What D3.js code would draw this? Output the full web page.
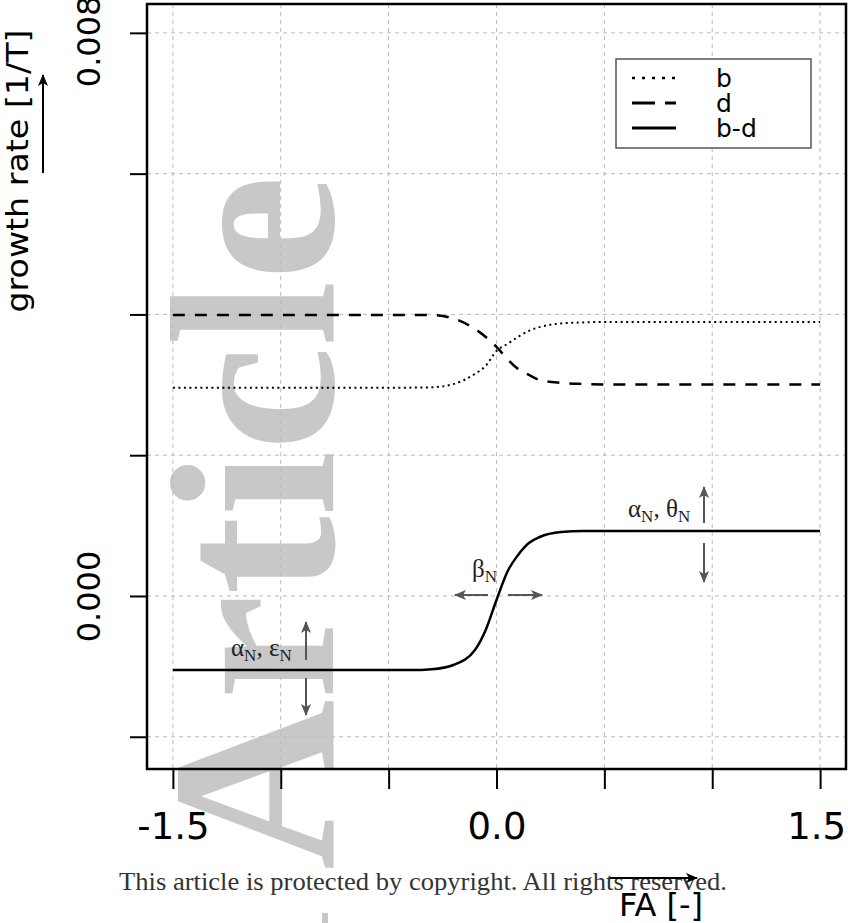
<!DOCTYPE html>
<html>
<head>
<meta charset="utf-8">
<script src="https://cdn.jsdelivr.net/npm/d3@7"></script>
<style>
    body { margin: 0; background: #fff; }
    svg { display: block; }
    .sans { font-family: "DejaVu Sans", sans-serif; }
    .serif { font-family: "Liberation Serif", "Times New Roman", serif; }
</style>
</head>
<body>
<svg width="848" height="923"></svg>
<script>
// FA sample points
const faValues = [-1.5, -1.0, -0.5, -0.4, -0.3, -0.2, -0.1, -0.05, 0, 0.05, 0.1, 0.15, 0.2, 0.3, 0.4, 0.5, 1.0, 1.5];
// birth rate b (dotted)
const bValues = [0.00296, 0.00296, 0.00296, 0.00296, 0.002965, 0.00301, 0.003155, 0.00327, 0.00348, 0.00358, 0.00368, 0.003766, 0.00382, 0.003872, 0.003886, 0.003893, 0.003893, 0.003893];
// death rate d (dashed)
const dValues = [0.003993, 0.003993, 0.003993, 0.003993, 0.00399, 0.003943, 0.003794, 0.00368, 0.003538, 0.003368, 0.003226, 0.00314, 0.003069, 0.003027, 0.003012, 0.003006, 0.003006, 0.003006];
// net growth b-d (solid)
const netValues = [-0.001052, -0.001052, -0.001052, -0.001052, -0.00104, -0.00098, -0.000767, -0.000483, -0.000057, 0.000341, 0.000583, 0.000753, 0.000838, 0.000909, 0.000924, 0.000924, 0.000924, 0.000924];

const xTicks = [-1.5, -1.0, -0.5, 0, 0.5, 1.0, 1.5];
const xTickLabels = ['-1.5', '', '', '0.0', '', '', '1.5'];
const yTicks = [-0.002, 0, 0.002, 0.004, 0.006, 0.008];
const yTickLabels = ['', '0.000', '', '', '', '0.008'];
const legendNames = ['b', 'd', 'b-d'];

const BOX = { left: 147, right: 846, top: 4, bottom: 769 };

const svg = d3.select('svg');

const xScale = d3.scaleLinear()
    .domain([-1.62, 1.62])
    .range([BOX.left, BOX.right]);

const yScale = d3.scaleLinear()
    .domain([-0.002458, 0.00841])
    .range([BOX.bottom, BOX.top]);

// arrow heads
const defs = svg.append('defs');
function addMarker(id, color) {
    defs.append('marker')
        .attr('id', id)
        .attr('viewBox', '0 0 12 10')
        .attr('refX', 11).attr('refY', 5)
        .attr('markerWidth', 6.5).attr('markerHeight', 5)
        .attr('markerUnits', 'strokeWidth')
        .attr('orient', 'auto')
        .append('path')
        .attr('d', 'M0,0 L12,5 L0,10 L3,5 Z')
        .attr('fill', color);
}
addMarker('headBlack', '#000');
addMarker('headGrey', '#555');

// WATERMARK ==================================================
svg.append('text')
    .attr('class', 'serif')
    .attr('transform', 'translate(333,870) rotate(-90)')
    .attr('font-size', 236)
    .attr('font-weight', 'bold')
    .attr('fill', '#c8c8c8')
    .text('Article');

svg.append('rect')
    .attr('x', 322).attr('y', 913)
    .attr('width', 6).attr('height', 10)
    .attr('fill', '#c8c8c8');

// GRID =======================================================
svg.append('g')
    .selectAll('line')
    .data(xTicks)
    .join('line')
    .attr('x1', d => xScale(d)).attr('x2', d => xScale(d))
    .attr('y1', BOX.top).attr('y2', BOX.bottom)
    .attr('stroke', '#bbb')
    .attr('stroke-dasharray', '4,4');

svg.append('g')
    .selectAll('line')
    .data(yTicks)
    .join('line')
    .attr('x1', BOX.left).attr('x2', BOX.right)
    .attr('y1', d => yScale(d)).attr('y2', d => yScale(d))
    .attr('stroke', '#bbb')
    .attr('stroke-dasharray', '4,4');

// AXES =======================================================
const xAxis = svg.append('g')
    .attr('transform', `translate(0,${BOX.bottom})`)
    .call(d3.axisBottom(xScale)
        .tickValues(xTicks)
        .tickSize(20)
        .tickPadding(24)
        .tickFormat((d, i) => xTickLabels[i]));

xAxis.select('.domain').remove();
xAxis.selectAll('line').attr('stroke', '#000').attr('stroke-width', 2);
xAxis.selectAll('text')
    .attr('class', 'sans')
    .attr('font-size', 37)
    .attr('fill', '#000')
    .attr('dy', '0.71em');
// last label sits a little inside the frame edge
xAxis.selectAll('text').filter((d, i) => i === xTicks.length - 1)
    .attr('x', -4);

const yAxis = svg.append('g')
    .attr('transform', `translate(${BOX.left},0)`)
    .call(d3.axisLeft(yScale)
        .tickValues(yTicks)
        .tickSize(17)
        .tickFormat((d, i) => yTickLabels[i]));

yAxis.select('.domain').remove();
yAxis.selectAll('line').attr('stroke', '#000').attr('stroke-width', 2);
yAxis.selectAll('text')
    .attr('class', 'sans')
    .attr('font-size', 32)
    .attr('fill', '#000')
    .attr('transform', 'rotate(-90)')
    .attr('x', 0)
    .attr('y', -47)
    .attr('dy', 0)
    .attr('text-anchor', 'middle');
// top label is nudged down so it stays mostly on the page
yAxis.selectAll('text').filter((d, i) => i === yTicks.length - 1)
    .attr('x', -8);

// box
svg.append('rect')
    .attr('x', BOX.left).attr('y', BOX.top)
    .attr('width', BOX.right - BOX.left)
    .attr('height', BOX.bottom - BOX.top)
    .attr('fill', 'none')
    .attr('stroke', '#000')
    .attr('stroke-width', 2.5);

// CURVES =====================================================
const line = values => d3.line()
    .x((d, i) => xScale(faValues[i]))
    .y(d => yScale(d))
    .curve(d3.curveMonotoneX)(values);

const series = [
    { values: bValues, dash: '2,3.5', legendDash: '3,7', width: 2 },
    { values: dValues, dash: '12,10', legendDash: '23,10', width: 2.5 },
    { values: netValues, dash: null, legendDash: null, width: 2.5 }
];

svg.append('g')
    .selectAll('path')
    .data(series)
    .join('path')
    .attr('d', s => line(s.values))
    .attr('fill', 'none')
    .attr('stroke', '#000')
    .attr('stroke-width', s => s.width)
    .attr('stroke-dasharray', s => s.dash);

// LEGEND =====================================================
const legend = svg.append('g');
legend.append('rect')
    .attr('x', 616).attr('y', 59)
    .attr('width', 195).attr('height', 89)
    .attr('fill', '#fff')
    .attr('stroke', '#555')
    .attr('stroke-width', 1.5);

const legendRows = legend.selectAll('g.row')
    .data(series)
    .join('g')
    .attr('class', 'row')
    .attr('transform', (d, i) => `translate(0,${78 + i * 25})`);

legendRows.append('line')
    .attr('x1', 632).attr('x2', 676)
    .attr('stroke', '#000')
    .attr('stroke-width', s => s.width + 0.5)
    .attr('stroke-dasharray', s => s.legendDash);

legendRows.append('text')
    .attr('class', 'sans')
    .attr('x', 716)
    .attr('dy', '0.35em')
    .attr('font-size', 25)
    .text((d, i) => legendNames[i]);

// ANNOTATIONS ================================================
function greek(x, y, parts) {
    const t = svg.append('text')
        .attr('class', 'serif')
        .attr('x', x).attr('y', y)
        .attr('font-size', 25)
        .attr('fill', '#222');
    parts.forEach(p => {
        t.append('tspan').text(p[0]);
        t.append('tspan').attr('font-size', 17).attr('dy', 5).text(p[1]);
        if (p[2]) t.append('tspan').attr('dy', -5).text(p[2]);
    });
}
greek(231, 656, [['α', 'N', ', '], ['ε', 'N']]);
greek(628, 517, [['α', 'N', ', '], ['θ', 'N']]);
greek(472, 577, [['β', 'N']]);

function arrow(x1, y1, x2, y2, marker, color, width) {
    svg.append('line')
        .attr('x1', x1).attr('y1', y1)
        .attr('x2', x2).attr('y2', y2)
        .attr('stroke', color)
        .attr('stroke-width', width)
        .attr('marker-end', `url(#${marker})`);
}
arrow(306, 660, 306, 622, 'headGrey', '#555', 2);
arrow(306, 678, 306, 715, 'headGrey', '#555', 2);
arrow(704, 523, 704, 487, 'headGrey', '#555', 2);
arrow(704, 543, 704, 582, 'headGrey', '#555', 2);
arrow(488, 595, 455, 595, 'headGrey', '#555', 2);
arrow(508, 595, 542, 595, 'headGrey', '#555', 2);

// AXIS TITLES ================================================
svg.append('text')
    .attr('class', 'sans')
    .attr('transform', 'translate(28,171) rotate(-90)')
    .attr('text-anchor', 'middle')
    .attr('font-size', 30)
    .attr('textLength', 283)
    .attr('lengthAdjust', 'spacingAndGlyphs')
    .text('growth rate [1/T]');
arrow(43, 173, 43, 75, 'headBlack', '#000', 2);

svg.append('text')
    .attr('class', 'serif')
    .attr('x', 119).attr('y', 890)
    .attr('font-size', 26)
    .attr('fill', '#333')
    .attr('textLength', 608)
    .attr('lengthAdjust', 'spacingAndGlyphs')
    .text('This article is protected by copyright. All rights reserved.');

arrow(610, 878, 697, 878, 'headBlack', '#000', 2);
svg.append('text')
    .attr('class', 'sans')
    .attr('x', 661).attr('y', 916)
    .attr('text-anchor', 'middle')
    .attr('font-size', 32)
    .text('FA [-]');
</script>
</body>
</html>
